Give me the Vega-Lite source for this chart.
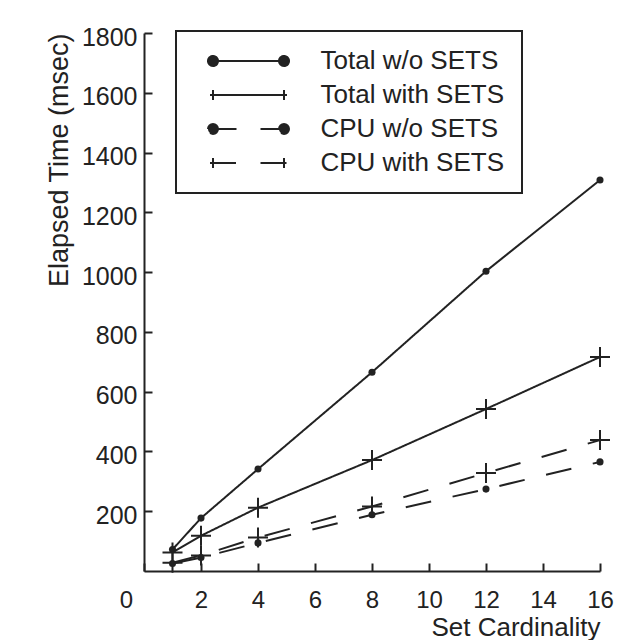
{
  "$schema": "https://vega.github.io/schema/vega-lite/v6.json",
  "width": 456,
  "height": 538,
  "autosize": "none",
  "padding": {"left": 144, "top": 33, "right": 39, "bottom": 69},
  "background": "white",
  "config": {
    "view": {"stroke": null},
    "font": "Liberation Sans",
    "axis": {
      "grid": false,
      "domainColor": "#222",
      "domainWidth": 2,
      "tickColor": "#222",
      "tickWidth": 2,
      "labelColor": "#222",
      "titleColor": "#222",
      "labelFont": "Liberation Sans",
      "titleFont": "Liberation Sans",
      "labelFontSize": 25,
      "titleFontSize": 26,
      "titleFontWeight": "normal"
    }
  },
  "data": {
    "values": [
      {"series": "Total w/o SETS", "card": 1, "ms": 72},
      {"series": "Total w/o SETS", "card": 2, "ms": 177},
      {"series": "Total w/o SETS", "card": 4, "ms": 341},
      {"series": "Total w/o SETS", "card": 8, "ms": 665},
      {"series": "Total w/o SETS", "card": 12, "ms": 1003},
      {"series": "Total w/o SETS", "card": 16, "ms": 1308},
      {"series": "Total with SETS", "card": 1, "ms": 62},
      {"series": "Total with SETS", "card": 2, "ms": 118},
      {"series": "Total with SETS", "card": 4, "ms": 212},
      {"series": "Total with SETS", "card": 8, "ms": 371},
      {"series": "Total with SETS", "card": 12, "ms": 542},
      {"series": "Total with SETS", "card": 16, "ms": 716},
      {"series": "CPU w/o SETS", "card": 1, "ms": 25},
      {"series": "CPU w/o SETS", "card": 2, "ms": 45},
      {"series": "CPU w/o SETS", "card": 4, "ms": 94},
      {"series": "CPU w/o SETS", "card": 8, "ms": 188},
      {"series": "CPU w/o SETS", "card": 12, "ms": 274},
      {"series": "CPU w/o SETS", "card": 16, "ms": 365},
      {"series": "CPU with SETS", "card": 1, "ms": 28},
      {"series": "CPU with SETS", "card": 2, "ms": 52},
      {"series": "CPU with SETS", "card": 4, "ms": 112},
      {"series": "CPU with SETS", "card": 8, "ms": 216},
      {"series": "CPU with SETS", "card": 12, "ms": 328},
      {"series": "CPU with SETS", "card": 16, "ms": 438}
    ]
  },
  "encoding": {
    "x": {
      "field": "card",
      "type": "quantitative",
      "scale": {"domain": [0, 16], "nice": false, "zero": false},
      "axis": {
        "title": "Set Cardinality",
        "titleAnchor": "end",
        "titlePadding": 2,
        "values": [0, 2, 4, 6, 8, 10, 12, 14, 16],
        "tickSize": -8,
        "labelPadding": 25,
        "labelFontSize": 24,
        "labelFlush": false,
        "labelOffset": {"condition": {"test": "datum.value === 0", "value": -18}, "value": 0}
      }
    },
    "y": {
      "field": "ms",
      "type": "quantitative",
      "scale": {"domain": [0, 1800], "nice": false},
      "axis": {
        "title": "Elapsed Time (msec)",
        "titleAnchor": "end",
        "titlePadding": 8,
        "titleFontSize": 27,
        "format": "d",
        "values": [200, 400, 600, 800, 1000, 1200, 1400, 1600, 1800],
        "tickSize": -8,
        "labelPadding": 15,
        "labelFlush": false,
        "labelOffset": 4
      }
    }
  },
  "layer": [
    {
      "mark": {"type": "line", "color": "#222", "strokeWidth": 2},
      "encoding": {
        "strokeDash": {
          "field": "series",
          "type": "nominal",
          "scale": {
            "domain": ["Total w/o SETS", "Total with SETS", "CPU w/o SETS", "CPU with SETS"],
            "range": [[1, 0], [1, 0], [26, 22], [26, 22]]
          },
          "legend": {
            "title": null,
            "orient": "none",
            "legendX": 32,
            "legendY": -2,
            "padding": 17,
            "strokeColor": "#222",
            "fillColor": "white",
            "symbolSize": 100,
            "symbolOffset": 42.5,
            "labelOffset": 59,
            "labelFontSize": 26,
            "labelFont": "Liberation Sans",
            "labelColor": "#222",
            "labelLimit": 400,
            "rowPadding": 8,
            "symbolStrokeWidth": 2,
            "symbolStrokeColor": "#222",
            "symbolFillColor": "#222",
            "encode": {
              "legend": {"update": {"strokeWidth": {"value": 2}}},
              "symbols": {
                "update": {
                  "shape": {"signal": "datum.value === 'Total w/o SETS' ? 'M-7.1,0L7.1,0M-8.1,0A1,1 0 1,1 -6.1,0A1,1 0 1,1 -8.1,0ZM6.1,0A1,1 0 1,1 8.1,0A1,1 0 1,1 6.1,0Z' : datum.value === 'Total with SETS' ? 'M-7.7,0L7.7,0M-7.1,-1L-7.1,1M7.1,-1L7.1,1' : datum.value === 'CPU w/o SETS' ? 'M-7.1,0L-2.4,0M2.4,0L7.1,0M-8.1,0A1,1 0 1,1 -6.1,0A1,1 0 1,1 -8.1,0ZM6.1,0A1,1 0 1,1 8.1,0A1,1 0 1,1 6.1,0Z' : 'M-7.7,0L-2.4,0M2.4,0L7.7,0M-7.1,-1L-7.1,1M7.1,-1L7.1,1'"},
                  "strokeDash": {"value": [1, 0]},
                  "fill": {"value": "#222"},
                  "stroke": {"value": "#222"},
                  "strokeWidth": {"value": 2},
                  "opacity": {"value": 1}
                }
              }
            }
          }
        }
      }
    },
    {
      "transform": [{"filter": "indexof(datum.series, 'w/o') >= 0"}],
      "mark": {"type": "point", "shape": "circle", "filled": true, "color": "#222", "size": 50, "opacity": 1}
    },
    {
      "transform": [{"filter": "indexof(datum.series, 'with') >= 0"}],
      "mark": {"type": "point", "shape": "M-1,0L1,0M0,-1L0,1", "filled": false, "color": "#222", "strokeWidth": 2, "size": 400, "opacity": 1}
    }
  ]
}
